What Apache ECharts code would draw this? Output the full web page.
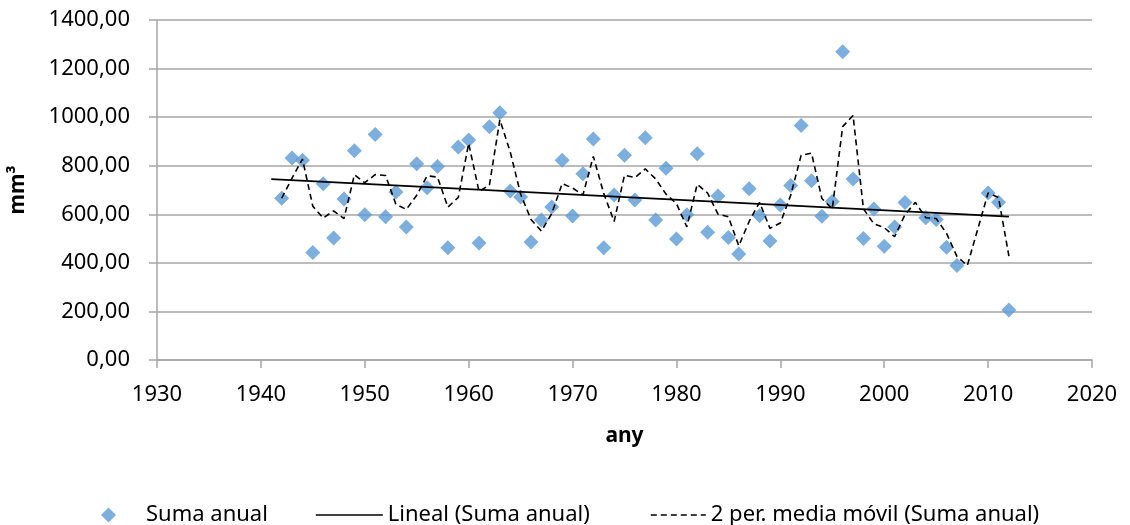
<!DOCTYPE html>
<html>
<head>
<meta charset="utf-8">
<script src="https://cdn.jsdelivr.net/npm/echarts@6/dist/echarts.min.js"></script>
<style>
html,body{margin:0;padding:0;background:#fff;}
#c{width:1130px;height:525px;}
</style>
</head>
<body>
<div id="c"></div>
<script>
// Years (rows of the source table; blank rows have null values)
const years = [];
for (let y = 1941; y <= 2012; y++) years.push(y);
// Annual sums (mm³)
const sumaAnual = [
  null, 666, 832, 823, 443, 726, 502, 663, 862, 598,   // 1941-1950
  929, 590, 692, 548, 808, 709, 797, 462, 877, 906,    // 1951-1960
  482, 960, 1018, 696, 671, 486, 576, 630, 823, 593,   // 1961-1970
  767, 910, 462, 679, 843, 659, 915, 576, 790, 498,    // 1971-1980
  598, 849, 526, 675, 504, 436, 705, 594, 490, 638,    // 1981-1990
  719, 966, 738, 592, 653, 1269, 745, 500, 622, 468,   // 1991-2000
  548, 649, null, 586, 579, 464, 389, null, null, 688, // 2001-2010
  650, 206                                             // 2011-2012
];
const xTicks = [1930, 1940, 1950, 1960, 1970, 1980, 1990, 2000, 2010, 2020];
const yTicks = [0, 200, 400, 600, 800, 1000, 1200, 1400];
const seriesNames = ['Suma anual', 'Lineal (Suma anual)', '2 per. media móvil (Suma anual)'];

// scatter points
const pts = [];
years.forEach((y, i) => { if (sumaAnual[i] !== null) pts.push([y, sumaAnual[i]]); });

// linear trend (least squares over the points)
const n = pts.length;
let sx = 0, sy = 0, sxx = 0, sxy = 0;
pts.forEach(p => { sx += p[0]; sy += p[1]; sxx += p[0] * p[0]; sxy += p[0] * p[1]; });
const slope = (n * sxy - sx * sy) / (n * sxx - sx * sx);
const icpt = (sy - slope * sx) / n;
const x0 = years[0], x1 = years[years.length - 1];
const trend = [[x0, icpt + slope * x0], [x1, icpt + slope * x1]];

// 2-period moving average (blank rows skipped inside the window)
const ma = [];
years.forEach((y, i) => {
  const w = [sumaAnual[i - 1], sumaAnual[i]].filter(v => v !== null && v !== undefined);
  if (w.length) ma.push([y, w.reduce((a, b) => a + b, 0) / w.length]);
});

const FONT = 'Noto Sans';
const legendText = {fontFamily: FONT, fontSize: 22, color: '#000'};
const chart = echarts.init(document.getElementById('c'), null, {renderer: 'canvas'});
chart.setOption({
  animation: false,
  backgroundColor: '#fff',
  textStyle: {fontFamily: FONT},
  grid: {left: 157, right: 38, top: 20, bottom: 165, containLabel: false},
  xAxis: {
    type: 'value',
    min: xTicks[0], max: xTicks[xTicks.length - 1], interval: xTicks[1] - xTicks[0],
    name: 'any', nameLocation: 'middle', nameGap: 66,
    nameTextStyle: {fontFamily: FONT, fontSize: 21, fontWeight: 'bold', color: '#000'},
    axisLine: {show: true, onZero: false, lineStyle: {color: '#a6a6a6', width: 1.5}},
    axisTick: {show: true, length: 8, lineStyle: {color: '#a6a6a6', width: 1.5}},
    axisLabel: {fontFamily: FONT, fontSize: 22, color: '#000', margin: 24,
      formatter: v => String(v)},
    splitLine: {show: false}
  },
  yAxis: {
    type: 'value',
    min: yTicks[0], max: yTicks[yTicks.length - 1], interval: yTicks[1] - yTicks[0],
    name: 'mm³', nameLocation: 'middle', nameGap: 128,
    nameTextStyle: {fontFamily: FONT, fontSize: 21, fontWeight: 'bold', color: '#000'},
    axisLine: {show: true, lineStyle: {color: '#a6a6a6', width: 1.5}},
    axisTick: {show: true, length: 8, lineStyle: {color: '#a6a6a6', width: 1.5}},
    axisLabel: {fontFamily: FONT, fontSize: 22, color: '#000', margin: 27,
      formatter: v => v.toFixed(2).replace('.', ',')},
    splitLine: {show: true, lineStyle: {color: '#a6a6a6', width: 1.5}}
  },
  legend: [
    {data: [{name: seriesNames[0], icon: 'diamond'}], left: 96, top: 499,
     itemWidth: 15, itemHeight: 15, itemGap: 0,
     textStyle: Object.assign({padding: [0, 0, 0, 25]}, legendText)},
    {data: [seriesNames[1]], left: 310, top: 499, itemWidth: 67, itemHeight: 15,
     itemStyle: {opacity: 0}, lineStyle: {color: '#000', width: 1.6, type: 'solid'},
     textStyle: legendText},
    {data: [seriesNames[2]], left: 645, top: 499, itemWidth: 55, itemHeight: 15,
     itemStyle: {opacity: 0}, lineStyle: {color: '#000', width: 1.6, type: [6, 4]},
     textStyle: legendText}
  ],
  series: [
    {
      name: seriesNames[0], type: 'scatter', data: pts,
      symbol: 'diamond', symbolSize: 15,
      itemStyle: {color: '#5b9bd5'}, z: 2
    },
    {
      name: seriesNames[1], type: 'line', data: trend,
      symbol: 'none', showSymbol: false,
      lineStyle: {color: '#000', width: 1.6, type: 'solid'},
      itemStyle: {color: '#000'}, z: 3
    },
    {
      name: seriesNames[2], type: 'line', data: ma,
      symbol: 'none', showSymbol: false, connectNulls: true,
      lineStyle: {color: '#000', width: 1.6, type: [6, 4]},
      itemStyle: {color: '#000'}, z: 3
    }
  ]
});
</script>
</body>
</html>
